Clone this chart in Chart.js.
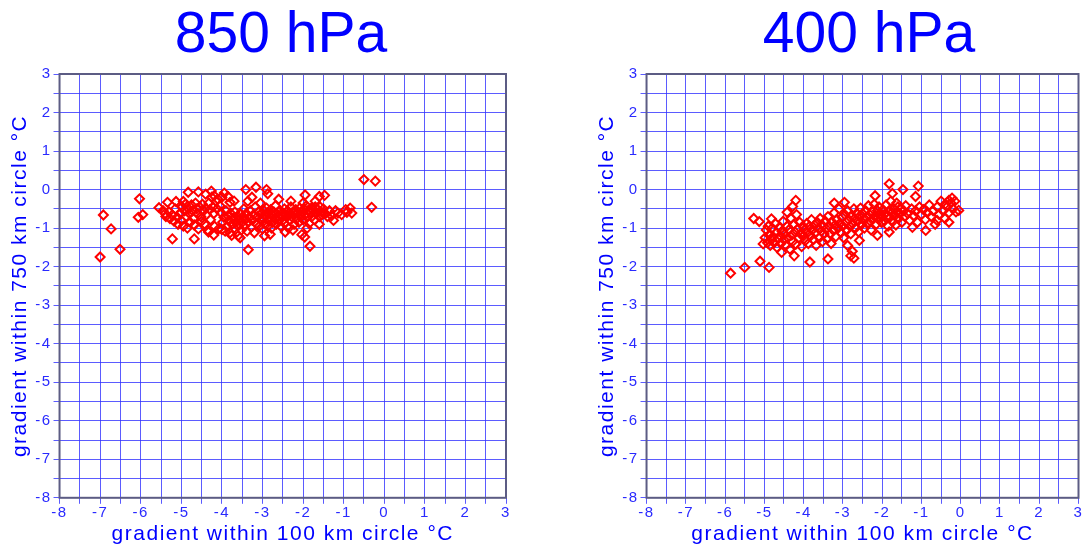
<!DOCTYPE html>
<html>
<head>
<meta charset="utf-8">
<script src="https://cdn.jsdelivr.net/npm/chart.js@4"></script>
<style>
  body { margin: 0; background: #fff; width: 1085px; height: 545px; overflow: hidden; position: relative; font-family: "Liberation Sans", Arial, sans-serif; }
  .ttl { position: absolute; top: 4px; width: 300px; text-align: center; color: #0000ff; font-size: 57px; line-height: 57px; }
  canvas { position: absolute; }
</style>
</head>
<body>
<div class="ttl" id="t850" style="left:131px">850 hPa</div>
<div class="ttl" id="t400" style="left:719px">400 hPa</div>
<canvas id="c850" width="522" height="484" style="left:0;top:63px"></canvas>
<canvas id="c400" width="497" height="484" style="left:588px;top:63px"></canvas>
<script>
// axis range and labels
const axisMin = -8;
const axisMax = 3;
const gridStep = 0.5;
const xTitle = "gradient within 100 km circle °C";
const yTitle = "gradient within 750 km circle °C";

// 850 hPa scatter: [100 km gradient, 750 km gradient]
const points850 = [
    [-7.0,-1.75],[-6.92,-0.66],[-6.73,-1.02],[-6.51,-1.55],[-6.03,-0.24],[-6.06,-0.72],[-5.95,-0.65],
    [-5.55,-0.47],[-5.34,-0.33],[-5.13,-0.31],[-4.95,-0.31],[-5.22,-1.28],[-4.83,-0.07],[-4.58,-0.06],
    [-4.26,-0.04],[-4.19,-0.16],[-3.94,-0.09],[-3.8,-0.33],[-3.41,0.0],[-3.16,0.06],[-2.9,0.0],[-2.87,-0.11],
    [-3.35,-1.56],[-1.83,-1.47],[-0.5,0.26],[-0.22,0.22],[-0.31,-0.46],[-0.84,-0.48],[-0.92,-0.59],
    [-0.8,-0.61],[-1.47,-0.15],[-1.95,-0.14],[-1.25,-0.8],[-1.14,-0.61],[-1.54,-0.66],[-2.03,-1.17],
    [-1.96,-1.23],[-2.44,-1.1],[-2.81,-1.16],[-4.68,-1.28],[-4.33,-1.1],[-4.0,-1.04],[-3.76,-1.19],[-3.55,-1.25],
    [-5.45,-0.55],[-5.4,-0.62],[-5.38,-0.7],[-5.3,-0.58],[-5.28,-0.75],[-5.22,-0.66],[-5.18,-0.82],[-5.15,-0.5],
    [-5.1,-0.72],[-5.08,-0.9],[-5.02,-0.62],[-5.0,-0.8],[-4.98,-0.45],
    [-4.95,-0.95],[-4.92,-0.55],[-4.9,-0.38],[-4.88,-0.7],[-4.85,-1.0],[-4.82,-0.5],[-4.8,-0.62],[-4.78,-0.85],
    [-4.75,-0.4],[-4.72,-0.55],[-4.7,-0.75],[-4.68,-0.92],[-4.65,-0.35],[-4.62,-0.5],[-4.6,-0.62],[-4.58,-1.02],
    [-4.55,-0.45],[-4.52,-0.7],[-4.5,-0.82],
    [-4.48,-0.38],[-4.45,-0.55],[-4.42,-0.9],[-4.4,-0.48],[-4.38,-0.65],[-4.35,-1.05],[-4.32,-0.35],[-4.3,-0.52],
    [-4.28,-0.78],[-4.25,-0.2],[-4.22,-0.45],[-4.2,-0.62],[-4.18,-0.95],[-4.15,-0.3],[-4.12,-0.5],[-4.1,-0.25],
    [-4.08,-1.02],[-4.05,-0.42],[-4.02,-0.6],
    [-3.98,-0.85],[-3.95,-0.72],[-3.92,-1.08],[-3.9,-0.55],[-3.88,-0.95],[-3.85,-0.68],[-3.82,-0.8],[-3.8,-1.12],
    [-3.78,-0.62],[-3.75,-0.9],[-3.72,-0.75],[-3.7,-1.0],[-3.68,-0.58],[-3.65,-0.85],[-3.62,-0.7],[-3.6,-0.95],
    [-3.58,-0.78],[-3.55,-0.62],[-3.52,-1.05],[-3.5,-0.85],
    [-3.48,-0.7],[-3.46,-0.5],[-3.45,-0.95],[-3.42,-0.78],[-3.4,-0.62],[-3.38,-1.08],[-3.36,-0.3],[-3.35,-0.85],
    [-3.32,-0.72],[-3.3,-0.55],[-3.28,-0.98],[-3.26,-0.2],[-3.25,-0.8],[-3.22,-0.65],[-3.2,-1.12],[-3.18,-0.45],
    [-3.15,-0.88],[-3.12,-0.7],[-3.1,-0.58],[-3.08,-0.95],[-3.05,-0.35],[-3.04,-0.78],[-3.02,-0.62],[-3.0,-1.02],
    [-2.98,-0.75],[-2.96,-0.55],[-2.95,-0.88],[-2.92,-0.68],[-2.9,-0.48],[-2.88,-0.95],[-2.86,-0.6],[-2.85,-0.8],
    [-2.82,-0.72],[-2.8,-0.52],[-2.78,-1.0],[-2.76,-0.65],[-2.75,-0.85],[-2.72,-0.58],[-2.7,-0.75],[-2.68,-0.42],
    [-2.66,-0.9],[-2.65,-0.62],[-2.62,-0.7],[-2.6,-0.8],[-2.58,-0.55],[-2.55,-0.95],[-2.52,-0.68],[-2.5,-0.6],
    [-2.48,-0.78],[-2.46,-0.5],[-2.45,-0.88],[-2.42,-0.65],[-2.4,-0.72],[-2.38,-0.55],[-2.36,-1.0],[-2.35,-0.62],
    [-2.32,-0.8],[-2.3,-0.45],[-2.28,-0.7],[-2.25,-0.58],[-2.22,-0.9],[-2.2,-0.65],[-2.18,-0.52],[-2.15,-0.75],
    [-2.12,-0.6],[-2.1,-0.85],[-2.08,-0.48],[-2.05,-0.7],[-2.02,-0.58],[-2.0,-0.78],
    [-1.98,-0.5],[-1.95,-0.65],[-1.92,-0.42],[-1.9,-0.72],[-1.88,-0.55],[-1.85,-0.88],[-1.82,-0.6],[-1.8,-0.48],
    [-1.78,-0.7],[-1.75,-0.55],[-1.72,-0.78],[-1.7,-0.45],[-1.68,-0.62],[-1.65,-0.52],[-1.6,-0.7],[-1.58,-0.45],
    [-1.55,-0.58],[-1.5,-0.5],[-1.45,-0.62],[-1.4,-0.7],[-1.35,-0.55],[-1.3,-0.68],[-1.2,-0.55],[-1.05,-0.65],
    [-0.95,-0.52],
    [-3.7,-0.3],[-3.85,-0.18],[-4.4,-0.12],[-4.0,-0.2],[-2.6,-0.25],[-2.3,-0.3],[-1.7,-0.3],[-1.6,-0.18],
    [-2.0,-0.35],[-3.6,-1.2],[-4.2,-1.18],[-2.95,-1.2],[-2.25,-1.05],[-1.9,-1.0],[-1.6,-0.9]
];

// 400 hPa scatter: [100 km gradient, 750 km gradient]
const points400 = [
    [-5.86,-2.17],[-5.5,-2.02],[-5.11,-1.86],[-4.88,-2.02],[-5.27,-0.75],[-5.13,-0.83],[-5.03,-1.41],
    [-4.82,-0.76],[-4.2,-0.28],[-4.28,-0.44],[-4.42,-0.59],[-4.56,-1.63],[-4.24,-1.72],[-3.84,-1.88],
    [-3.38,-1.8],[-1.82,0.15],[-1.47,0.0],[-1.08,0.09],[-2.18,-0.16],[-1.74,-0.1],[-1.15,-0.18],[-1.63,-0.35],
    [-0.05,-0.54],[-0.22,-0.22],[-0.3,-0.28],[-0.39,-0.37],[-0.89,-1.06],[-1.23,-0.98],[-2.12,-1.19],
    [-2.58,-1.32],[-2.88,-1.45],[-2.76,-1.6],[-1.82,-1.1],[-0.3,-0.85],[-0.6,-0.8],[-3.22,-0.35],[-2.96,-0.33],
    [-2.8,-1.72],[-2.72,-1.78],
    [-4.98,-1.25],[-4.95,-1.05],[-4.92,-1.38],[-4.9,-0.95],[-4.88,-1.18],[-4.85,-1.45],[-4.82,-1.3],[-4.8,-1.0],
    [-4.78,-1.22],[-4.75,-1.38],[-4.72,-0.88],[-4.7,-1.12],[-4.68,-1.5],[-4.65,-1.28],[-4.62,-0.98],[-4.6,-1.2],
    [-4.58,-1.4],[-4.55,-1.08],[-4.52,-0.82],[-4.5,-1.3],
    [-4.48,-1.15],[-4.45,-1.45],[-4.42,-0.95],[-4.4,-1.25],[-4.38,-1.05],[-4.35,-1.55],[-4.32,-0.75],[-4.3,-1.18],
    [-4.28,-1.35],[-4.25,-0.9],[-4.22,-1.1],[-4.2,-1.42],[-4.18,-0.65],[-4.15,-1.02],[-4.12,-1.25],[-4.1,-0.85],
    [-4.08,-1.15],[-4.05,-1.48],[-4.02,-0.95],[-4.0,-1.2],
    [-3.98,-1.05],[-3.95,-1.32],[-3.92,-0.88],[-3.9,-1.12],[-3.88,-1.4],[-3.85,-0.95],[-3.82,-1.2],[-3.8,-0.78],
    [-3.78,-1.05],[-3.75,-1.3],[-3.72,-0.92],[-3.7,-1.12],[-3.68,-1.45],[-3.65,-0.85],[-3.62,-1.0],[-3.6,-1.25],
    [-3.58,-0.75],[-3.55,-1.08],[-3.52,-1.35],[-3.5,-0.95],
    [-3.48,-1.15],[-3.45,-0.82],[-3.42,-1.02],[-3.4,-1.28],[-3.38,-0.7],[-3.35,-0.95],[-3.32,-1.15],[-3.3,-1.4],
    [-3.28,-0.85],[-3.25,-1.05],[-3.22,-0.6],[-3.2,-0.92],[-3.18,-1.22],[-3.15,-0.78],[-3.12,-1.0],[-3.1,-0.5],
    [-3.08,-0.88],[-3.05,-1.12],[-3.02,-0.72],[-3.0,-0.95],
    [-2.98,-1.25],[-2.95,-0.65],[-2.92,-0.85],[-2.9,-1.05],[-2.88,-0.55],[-2.85,-0.78],[-2.82,-0.95],[-2.8,-1.15],
    [-2.78,-0.68],[-2.75,-0.88],[-2.72,-0.5],[-2.7,-0.75],[-2.68,-1.0],[-2.65,-0.62],[-2.62,-0.82],[-2.6,-1.1],
    [-2.58,-0.7],[-2.55,-0.48],[-2.52,-0.9],[-2.5,-0.62],
    [-2.48,-0.78],[-2.45,-1.0],[-2.42,-0.55],[-2.4,-0.72],[-2.38,-0.88],[-2.35,-0.42],[-2.32,-0.65],[-2.3,-0.82],
    [-2.28,-1.05],[-2.25,-0.58],[-2.22,-0.75],[-2.2,-0.38],[-2.18,-0.68],[-2.15,-0.9],[-2.12,-0.55],[-2.1,-0.72],
    [-2.08,-0.45],[-2.05,-0.62],[-2.02,-0.85],[-2.0,-0.7],
    [-1.98,-0.52],[-1.95,-0.8],[-1.92,-0.62],[-1.9,-0.4],[-1.88,-0.7],[-1.85,-0.95],[-1.82,-0.55],[-1.8,-0.72],
    [-1.78,-0.3],[-1.75,-0.6],[-1.72,-0.82],[-1.7,-0.5],[-1.68,-0.68],[-1.65,-0.92],[-1.62,-0.58],[-1.6,-0.45],
    [-1.58,-0.75],[-1.55,-0.62],[-1.52,-0.5],[-1.5,-0.85],
    [-1.45,-0.55],[-1.42,-0.7],[-1.4,-0.42],[-1.35,-0.62],[-1.3,-0.8],[-1.25,-0.5],[-1.2,-0.68],[-1.15,-0.55],
    [-1.1,-0.85],[-1.05,-0.45],[-1.0,-0.65],[-0.95,-0.52],[-0.9,-0.78],[-0.85,-0.6],[-0.8,-0.4],[-0.75,-0.7],
    [-0.7,-0.55],[-0.65,-0.9],[-0.6,-0.45],[-0.55,-0.65],[-0.5,-0.3],[-0.45,-0.55],[-0.4,-0.75],[-0.35,-0.45],
    [-0.3,-0.6],[-0.25,-0.35],[-0.2,-0.5],[-0.15,-0.3],[-0.12,-0.58]
];

const blue = "#0000ff";
const tickBlue = "#2a2aff";
const gridBlue = "rgba(50,50,255,0.8)";

// box round the plot area, under the markers
const framePlugin = {
    id: "frame",
    beforeDatasetsDraw(chart) {
        const a = chart.chartArea;
        const ctx = chart.ctx;
        ctx.save();
        ctx.strokeStyle = "#5c5c84";
        ctx.lineWidth = 2;
        ctx.strokeRect(a.left, a.top, a.right - a.left, a.bottom - a.top);
        ctx.restore();
    }
};

// wide letter spacing like the original labels
const spacingPlugin = {
    id: "spacing",
    beforeLayout(chart) { chart.ctx.letterSpacing = "1.5px"; },
    beforeDraw(chart) { chart.ctx.letterSpacing = "1.5px"; }
};

function intLabel(v) {
    return Number.isInteger(v) ? String(v) : "";
}

function axisOpts(title, isX) {
    return {
        type: "linear",
        min: axisMin,
        max: axisMax,
        ticks: {
            stepSize: gridStep,
            autoSkip: false,
            maxRotation: 0,
            callback: intLabel,
            color: tickBlue,
            padding: isX ? 0 : 2,
            font: { family: "Liberation Sans", size: 15 }
        },
        grid: { color: gridBlue, lineWidth: 1, tickLength: 6 },
        border: { display: false },
        title: {
            display: true,
            text: title,
            color: blue,
            font: { family: "Liberation Sans", size: 21 },
            padding: { top: 0, bottom: 0 }
        }
    };
}

function makeChart(id, points, padLeft, padRight) {
    new Chart(document.getElementById(id), {
        type: "scatter",
        data: {
            datasets: [{
                data: points.map(p => ({ x: p[0], y: p[1] })),
                pointStyle: "rectRot",
                pointRadius: 4.5,
                borderWidth: 2,
                borderColor: "#ff0000",
                backgroundColor: "rgba(0,0,0,0)"
            }]
        },
        options: {
            responsive: false,
            animation: false,
            layout: { padding: { left: padLeft, right: padRight, top: 0, bottom: 0 } },
            plugins: { legend: { display: false }, tooltip: { enabled: false } },
            scales: {
                x: axisOpts(xTitle, true),
                y: axisOpts(yTitle, false)
            }
        },
        plugins: [spacingPlugin, framePlugin]
    });
}

window.onload = () => {
    makeChart("c850", points850, 8, 16);
    makeChart("c400", points400, 7, 5);
};
</script>
</body>
</html>
